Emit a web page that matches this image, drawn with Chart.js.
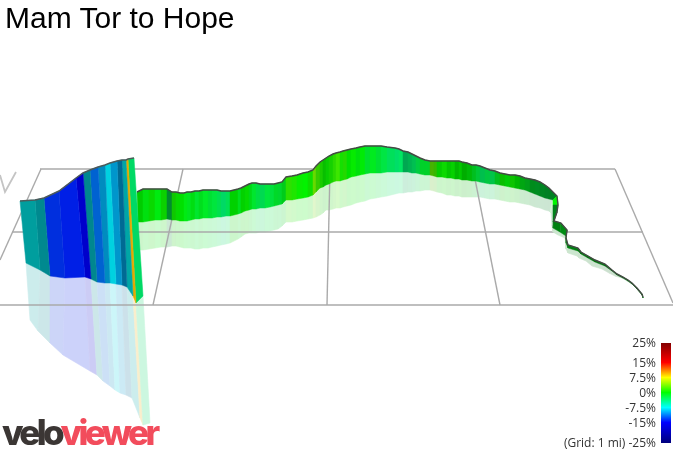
<!DOCTYPE html>
<html><head><meta charset="utf-8">
<style>
html,body{margin:0;padding:0;background:#fff;overflow:hidden}
#wrap{position:relative;width:673px;height:451px}
#title{position:absolute;left:5px;top:0px;font:30px/36px "Liberation Sans",Arial,sans-serif;color:#000;white-space:nowrap}
.tick{position:absolute;right:17px;font:12px/14px "Open Sans",sans-serif;color:#333;white-space:nowrap;transform:translateY(-7px)}
#logo{position:absolute;left:2px;top:410px;font:800 35px/44px "Inter",sans-serif;letter-spacing:-3.6px;white-space:nowrap}
#logo .a{color:#3b3634}#logo .b{color:#f24c5c}
</style>
<script src="https://cdn.jsdelivr.net/npm/chart.js@4"></script>
</head><body><div id="wrap"><canvas id="c" width="673" height="451"></canvas>
<div id="title">Mam Tor to Hope</div>
<div id="logo"><span class="a">velo</span><span class="b">viewer</span></div></div>
<script>
// Ribbon stations
const topX=[20,35,44,59,76,83,90,98,105,110,117,122,126,128,134,
137,143,149,155,161,167,172,176,180,184,187,191,195,199,203,208,212,217,221,226,230,238,241,245,249,252,256,260,265,270,274,278,282,286,292,297,303,308,313,316,320,323,326,329,333,336,340,343,347,351,356,360,365,370,376,381,387,395,399,403,408,412,416,420,425,430,434,437,442,447,451,455,459,462,467,472,476,480,485,490,495,500,505,510,515,520,525,530,535,540,545,549,557,
558,557,554,561,567,566,568,578,581,588,595,605,612,617,623,628,632,637,642,643];
const topY=[201,200,198,191,178,173,170,167,165,163,161,160,160,159,158,
192,189,189,189,189,189,192,192,193,193,192,192,191,191,190,190,190,190,191,191,191,189,188,186,184,183,183,184,184,184,184,183,182,177,176,175,173,172,170,166,162,160,158,156,154,153,152,151,150,149,148,147,146,146,146,146,147,148,149,151,152,154,156,158,160,161,161,161,161,161,161,161,161,162,163,165,165,166,168,170,171,173,174,175,175,176,178,179,180,182,185,188,196,
205,212,221,223,230,238,245,248,252,256,260,264,270,274,277,280,283,288,294,297];
const baseX=[26,40,50,65,85,91,97,105,110,116,122,127,133,136,143,
138,143,149,155,161,167,172,176,180,184,187,191,195,199,203,208,212,217,221,226,230,238,241,245,249,252,256,260,265,270,274,278,282,286,292,297,303,308,313,316,320,323,326,329,333,336,340,343,347,351,356,360,365,370,376,381,387,395,399,403,408,412,416,420,425,430,434,437,442,447,451,455,459,462,467,472,476,480,485,490,495,500,505,510,515,520,525,530,535,540,545,549,553,
553,553,553,560,566,566,568,578,581,588,595,605,612,617,623,628,632,637,642,643];
const baseY=[263,270,276,278,277,279,282,283,283,284,285,287,296,303,296,
222,222,221,220,220,219,220,220,221,221,221,220,219,219,218,218,218,217,217,216,216,214,213,211,210,209,209,208,208,207,206,205,204,200,200,199,198,197,195,192,188,187,185,184,182,181,181,180,179,177,176,175,174,173,173,173,172,172,172,172,172,173,173,174,175,175,176,177,177,178,178,179,179,180,180,181,181,182,183,184,184,185,186,187,188,189,190,192,194,196,198,199,200,
205,222,228,232,236,243,248,251,254,258,262,266,271,275,278,281,284,289,295,298];
const shadowX=[30,38,50,63,90,97,103,110,115,120,126,132,140,143,150,
138,143,149,155,161,167,172,176,180,184,187,191,195,199,203,208,212,217,221,226,230,238,241,245,249,252,256,260,265,270,274,278,282,286,292,297,303,308,313,316,320,323,326,329,333,336,340,343,347,351,356,360,365,370,376,381,387,395,399,403,408,412,416,420,425,430,434,437,442,447,451,455,459,462,467,472,476,480,485,490,495,500,505,510,515,520,525,530,535,540,545,549,550,
551,552,553,558,565,566,568,577,579,586,592,602,609,615,622,627,632,637,642,643];
const shadowY=[320,331,343,355,371,375,381,386,390,393,395,398,418,425,423,
250,250,249,248,247,247,246,246,247,248,248,248,249,249,248,248,247,246,245,244,243,239,237,234,233,233,233,232,232,231,230,229,226,222,222,221,220,219,218,217,215,213,210,210,209,208,208,207,206,205,203,202,201,199,198,197,196,194,193,193,192,192,191,191,190,190,191,192,193,195,195,196,196,197,197,197,197,197,198,199,199,200,201,202,202,203,204,205,207,208,210,211,212,
213,226,232,235,238,249,253,256,258,261,266,269,273,276,278,281,284,289,295,298];
// Gradient (%) of the stripe that starts at each station; null ends a section
const grade=[-7.5,-7.8,-13.4,-14,-15,-7.9,-11.5,-9.5,-8,-9.5,-9.6,-7.5,9.5,-3.5,null,
0,-0.5,0.3,-0.5,0.4,-2.5,0.6,0.2,0,-0.6,-1,-0.6,-1.5,-1,-1.2,-1.7,-2,-2.6,-3.5,-2.8,0,-1,0.1,0.2,-0.8,-1.5,-2.3,-2.8,-2,-2,-1.4,-1.6,-1,1.5,1,0.3,0.1,0.5,3.6,2,1,0.3,0.3,0.8,1.5,2,0.7,1.2,0,0.2,-0.4,-0.2,-1.5,-1,-1.7,-2.2,-3,-3.5,-3.2,-3.6,-3.4,-3.2,-2.4,-1.5,-1.5,3,2.2,0.2,0.4,0.1,0.2,0,0.1,0,-0.3,-1.2,-2,-3,-2.4,-2.8,-1.2,0.3,-0.2,0.5,0,-0.8,-1.2,-1.5,-1.8,-2,-2.2,-2,0,
-1.5,-1.5,-1,-1,-0.5,-1,-1,-0.8,-1,-1,-1,-1,-1,-1,-1,-1,-1,-1,-1,null];
// Facet brightness of each stripe
const shade=[.62,.56,.87,.9,.8,.56,.82,.75,.88,.8,.58,.65,.9,.85,1,
.8,.88,.85,.92,.82,.55,.78,.85,.88,.92,.9,.87,.9,.87,.92,.88,.9,.88,.85,.88,.82,.87,.82,.85,.85,.9,.87,.85,.9,.88,.85,.84,.8,.88,.9,.93,.95,.87,.85,.8,.8,.75,.8,.82,.85,.9,.88,.85,.88,.92,.88,.92,.88,.92,.88,.9,.88,.87,.9,.66,.7,.75,.8,.82,.82,.7,.72,.8,.85,.78,.82,.72,.78,.68,.72,.75,.78,.75,.78,.77,.75,.75,.8,.77,.72,.65,.62,.55,.55,.52,.5,.5,.97,
.5,.45,.5,.55,.45,.5,.5,.45,.45,.45,.45,.4,.4,.4,.4,.4,.4,.4,.4,1];
// Projected 1-mile grid
const gridLinesX=[[40,615],[12,643],[0,673],[41,0],[183,153],[330,327],[473,500],[615,673]];
const gridLinesY=[[169,169],[232,232],[305,305],[169,260],[169,305],[169,305],[169,305],[169,303]];
const cutMarkX=[0,5,16];
const cutMarkY=[175,192,172];
// Colour legend
const gradeStops=[-25,-15,-7.5,0,7.5,15,25];
const stopColours=[[0,0,127],[0,0,255],[0,255,255],[0,255,0],[255,255,0],[255,0,0],[127,0,0]];
const gradeTicks=[25,15,7.5,0,-7.5,-15,-25];
const gridNote='(Grid: 1 mi) ';

function gradeRgb(g){
  for(let i=0;i<gradeStops.length-1;i++){
    if(g<=gradeStops[i+1]){
      const t=Math.max(0,(g-gradeStops[i])/(gradeStops[i+1]-gradeStops[i]));
      return stopColours[i].map((c,k)=>c+(stopColours[i+1][k]-c)*t);
    }
  }
  return stopColours[stopColours.length-1];
}
const css=c=>`rgb(${c.map(v=>Math.round(v)).join(',')})`;
const ds=[];
function poly(pts,col,order,bw){
  ds.push({data:pts,showLine:true,fill:'shape',backgroundColor:col,borderColor:col,borderWidth:bw,pointRadius:0,tension:0,order,xAxisID:'x',yAxisID:'y'});
}
for(let i=0;i<grade.length-1;i++){
  if(grade[i]===null)continue;
  const rgb=gradeRgb(grade[i]).map(v=>v*shade[i]);
  const light=rgb.map(v=>v*.2+255*.8);
  const a={x:baseX[i],y:baseY[i]},b={x:baseX[i+1],y:baseY[i+1]};
  poly([a,b,{x:shadowX[i+1],y:shadowY[i+1]},{x:shadowX[i],y:shadowY[i]},a],css(light),800-i,.6);
  const ord=i<15?i+5:500-i;
  poly([{x:topX[i],y:topY[i]},{x:topX[i+1],y:topY[i+1]},b,a,{x:topX[i],y:topY[i]}],css(rgb),ord,.5);
}
// grid sits on top of the pale shadows, under the ribbon
gridLinesX.forEach((xs,k)=>{
  ds.push({data:xs.map((x,j)=>({x,y:gridLinesY[k][j]})),showLine:true,borderColor:'#aaaaaa',borderWidth:1.4,pointRadius:0,order:700,xAxisID:'x',yAxisID:'y'});
});
ds.push({data:cutMarkX.map((x,j)=>({x,y:cutMarkY[j]})),showLine:true,borderColor:'#c4c4c4',borderWidth:1.8,pointRadius:0,order:700,xAxisID:'x',yAxisID:'y'});
// ridge lines
[[0,15,'#4c5a5a',1.5],[15,topX.length,'#454a45',1.4]].forEach(([s,e,col,w])=>{
  ds.push({data:topX.slice(s,e).map((x,j)=>({x,y:topY[s+j]})),showLine:true,borderColor:col,borderWidth:w,pointRadius:0,order:s?40:1,xAxisID:'x',yAxisID:'y'});
});
// colour bar on its own grade scale
const barPts=[];
for(let g=-25;g<=25;g+=.5)barPts.push({x:666,y:g});
ds.push({data:barPts,showLine:true,borderWidth:10,borderCapStyle:'butt',pointRadius:0,order:0,xAxisID:'x',yAxisID:'g',
  borderColor:'#000',segment:{borderColor:c=>css(gradeRgb(c.p0.parsed.y))}});

const chart=new Chart(document.getElementById('c'),{
  type:'scatter',
  data:{datasets:ds},
  options:{responsive:false,animation:false,devicePixelRatio:1,
    layout:{padding:0},
    plugins:{legend:{display:false},tooltip:{enabled:false},title:{display:false}},
    scales:{
      x:{type:'linear',min:0,max:673,display:false},
      y:{type:'linear',min:0,max:451,reverse:true,display:false},
      g:{type:'linear',min:-29,max:196.5,display:false}
    }}
});
const wrap=document.getElementById('wrap');
gradeTicks.forEach(g=>{
  const d=document.createElement('div');
  d.className='tick';
  d.textContent=(g===-25?gridNote:'')+g+'%';
  d.style.top=chart.scales.g.getPixelForValue(g)+'px';
  wrap.appendChild(d);
});
</script></body></html>
